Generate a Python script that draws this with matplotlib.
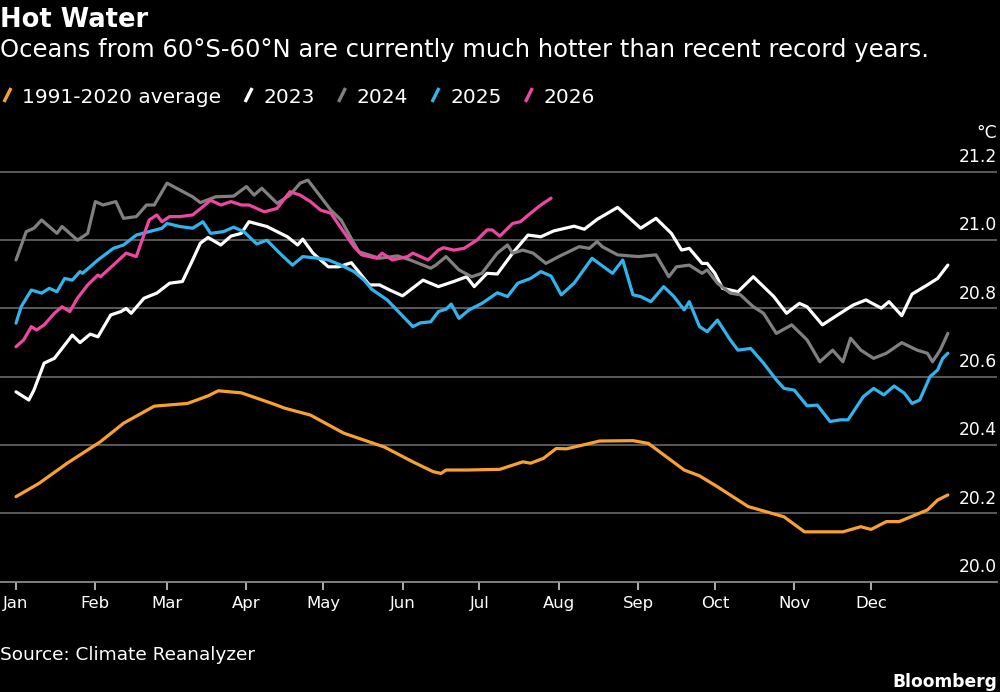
import matplotlib
matplotlib.use("Agg")
import matplotlib.pyplot as plt
from matplotlib.lines import Line2D
import matplotlib.transforms as mtrans

# ---------------- data (day of year, °C) ----------------
avg_days = [0, 9, 20, 33, 42, 54, 59, 67, 75, 79, 88, 100, 105, 115, 128, 144, 155, 163, 166, 168,
            176, 189, 198, 201, 206, 211, 215, 223, 228, 241, 247, 254, 261, 267, 274, 286, 293,
            300, 308, 323, 330, 334, 340, 345, 356, 360, 364]
avg_vals = [20.249, 20.288, 20.347, 20.41, 20.464, 20.514, 20.517, 20.522, 20.544, 20.559, 20.553,
            20.522, 20.508, 20.488, 20.435, 20.394, 20.351, 20.322, 20.317, 20.327, 20.327, 20.329,
            20.351, 20.347, 20.361, 20.39, 20.389, 20.403, 20.412, 20.413, 20.405, 20.366, 20.327,
            20.31, 20.278, 20.22, 20.205, 20.19, 20.146, 20.146, 20.161, 20.153, 20.176, 20.176,
            20.21, 20.239, 20.254]

y2023_days = [0, 5, 7, 11, 15, 22, 25, 29, 32, 37, 41, 43, 45, 50, 55, 60, 65, 69, 72, 75, 80, 84,
              88, 91, 98, 106, 110, 112, 116, 122, 126, 131, 138, 142, 146, 151, 159, 165, 171,
              176, 179, 184, 188, 194, 200, 205, 210, 218, 222, 227, 235, 244, 250, 256, 260, 263,
              268, 270, 273, 276, 282, 288, 296, 301, 306, 309, 315, 322, 327, 332, 338, 341, 346,
              350, 356, 360, 364]
y2023_vals = [20.556, 20.532, 20.561, 20.64, 20.654, 20.722, 20.70, 20.725, 20.717, 20.781, 20.791,
              20.80, 20.786, 20.83, 20.845, 20.874, 20.879, 20.942, 20.991, 21.008, 20.986, 21.012,
              21.02, 21.054, 21.04, 21.01, 20.986, 21.003, 20.962, 20.922, 20.922, 20.934, 20.869,
              20.869, 20.854, 20.837, 20.883, 20.864, 20.879, 20.893, 20.864, 20.903, 20.901,
              20.962, 21.015, 21.01, 21.027, 21.041, 21.032, 21.061, 21.096, 21.035, 21.064, 21.02,
              20.971, 20.976, 20.932, 20.932, 20.903, 20.859, 20.849, 20.893, 20.835, 20.786,
              20.815, 20.805, 20.752, 20.786, 20.81, 20.825, 20.801, 20.82, 20.779, 20.842, 20.869,
              20.888, 20.927]

y2024_days = [0, 4, 7, 10, 16, 18, 24, 28, 31, 34, 39, 42, 47, 51, 54, 59, 64, 69, 72, 78, 85, 90,
              93, 96, 102, 107, 111, 114, 118, 123, 127, 132, 134, 142, 149, 154, 162, 164, 168,
              173, 178, 182, 188, 192, 194, 198, 202, 207, 212, 220, 224, 227, 229, 235, 243, 250,
              255, 258, 263, 268, 270, 274, 279, 283, 288, 292, 297, 303, 309, 314, 319, 323, 326,
              330, 335, 340, 346, 352, 356, 358, 361, 364]
y2024_vals = [20.942, 21.025, 21.035, 21.059, 21.02, 21.04, 21.0, 21.02, 21.113, 21.103, 21.113,
              21.064, 21.069, 21.103, 21.103, 21.167, 21.147, 21.127, 21.11, 21.127, 21.129, 21.157,
              21.132, 21.152, 21.108, 21.132, 21.167, 21.176, 21.137, 21.088, 21.059, 20.991,
              20.966, 20.947, 20.954, 20.942, 20.918, 20.927, 20.952, 20.913, 20.893, 20.903,
              20.962, 20.986, 20.962, 20.971, 20.962, 20.932, 20.952, 20.981, 20.976, 20.996,
              20.981, 20.957, 20.952, 20.957, 20.893, 20.922, 20.927, 20.903, 20.913, 20.874,
              20.845, 20.84, 20.805, 20.786, 20.727, 20.752, 20.708, 20.644, 20.678, 20.644, 20.713,
              20.678, 20.654, 20.669, 20.70, 20.678, 20.669, 20.644, 20.678, 20.727]

y2025_days = [0, 2, 6, 10, 13, 16, 19, 22, 25, 26, 32, 38, 42, 47, 52, 57, 59, 64, 69, 73, 76, 81,
              85, 89, 94, 98, 103, 108, 112, 118, 122, 127, 132, 136, 139, 145, 150, 155, 158, 162,
              165, 168, 170, 173, 177, 182, 188, 192, 196, 201, 205, 209, 213, 218, 225, 233, 237,
              241, 244, 248, 253, 257, 261, 263, 267, 270, 274, 279, 282, 287, 292, 297, 300, 304,
              309, 313, 318, 322, 325, 331, 335, 339, 343, 347, 350, 353, 357, 360, 362, 364]
y2025_vals = [20.757, 20.805, 20.854, 20.845, 20.859, 20.849, 20.888, 20.883, 20.908, 20.903,
              20.942, 20.976, 20.986, 21.015, 21.025, 21.035, 21.049, 21.04, 21.035, 21.054, 21.02,
              21.025, 21.038, 21.025, 20.989, 21.0, 20.962, 20.927, 20.952, 20.947, 20.942, 20.927,
              20.908, 20.883, 20.856, 20.825, 20.786, 20.747, 20.758, 20.761, 20.791, 20.798,
              20.813, 20.771, 20.796, 20.815, 20.846, 20.835, 20.874, 20.888, 20.908, 20.895,
              20.84, 20.874, 20.947, 20.903, 20.942, 20.84, 20.835, 20.82, 20.864, 20.835, 20.796,
              20.82, 20.747, 20.732, 20.766, 20.708, 20.678, 20.683, 20.64, 20.591, 20.566, 20.561,
              20.515, 20.517, 20.469, 20.474, 20.474, 20.542, 20.566, 20.547, 20.573, 20.552,
              20.522, 20.532, 20.60, 20.62, 20.654, 20.669]

y2026_days = [0, 3, 6, 8, 11, 15, 18, 21, 24, 28, 32, 33, 38, 43, 47, 52, 55, 57, 60, 64, 69, 73,
              76, 80, 84, 88, 91, 97, 102, 107, 111, 115, 119, 123, 127, 132, 135, 141, 143, 147,
              153, 155, 161, 165, 167, 171, 175, 180, 184, 186, 189, 194, 197, 201, 205, 209]
y2026_vals = [20.688, 20.708, 20.747, 20.737, 20.752, 20.786, 20.805, 20.791, 20.83, 20.869,
              20.898, 20.893, 20.927, 20.962, 20.952, 21.059, 21.074, 21.054, 21.069, 21.069,
              21.074, 21.098, 21.117, 21.103, 21.113, 21.103, 21.103, 21.083, 21.093, 21.142,
              21.132, 21.113, 21.088, 21.079, 21.035, 20.981, 20.957, 20.947, 20.962, 20.942,
              20.952, 20.962, 20.942, 20.971, 20.978, 20.971, 20.976, 21.0, 21.03, 21.03, 21.012,
              21.049, 21.054, 21.079, 21.103, 21.123]

series_labels = ["1991-2020 average", "2023", "2024", "2025", "2026"]
month_days = [0, 31, 59, 90, 120, 151, 181, 212, 243, 273, 304, 334]
month_labels = ["Jan", "Feb", "Mar", "Apr", "May", "Jun", "Jul", "Aug", "Sep", "Oct", "Nov", "Dec"]
y_ticks = [20.0, 20.2, 20.4, 20.6, 20.8, 21.0, 21.2]
y_tick_labels = ["20.0", "20.2", "20.4", "20.6", "20.8", "21.0", "21.2"]

title = "Hot Water"
subtitle = "Oceans from 60°S-60°N are currently much hotter than recent record years."
source = "Source: Climate Reanalyzer"
unit = "°C"

# ---------------- style ----------------
colors = ["#F9A12E", "#FFFFFF", "#808080", "#2FB4EE", "#EE46A2"]
BG = "#000000"
GRID = "#5A5A5A"
plt.rcParams["font.family"] = ["DejaVu Sans"]

W, H = 1000, 692
fig = plt.figure(figsize=(W / 100, H / 100), dpi=100, facecolor=BG)
renderer = fig.canvas.get_renderer()


def px(x, y):
    return x / W, 1 - y / H


def fit(t, target_w):
    w = t.get_window_extent(renderer).width
    t.set_fontsize(t.get_fontsize() * target_w / w)
    return t


def fitted_size(text, target_w, **kw):
    t = fig.text(0, 0, text, fontsize=12, **kw)
    w = t.get_window_extent(renderer).width
    t.remove()
    return 12 * target_w / w


# axes geometry (in pixels)
ax_left_px, ax_right_px = 0, 997
ax_bottom_px, ax_top_px = 581.7, 154.8
ax = fig.add_axes([ax_left_px / W, 1 - ax_bottom_px / H,
                   (ax_right_px - ax_left_px) / W, (ax_bottom_px - ax_top_px) / H])
ax.set_facecolor(BG)
ax.set_xlim(-6.25, 383.2)
ax.set_ylim(20.0, 21.25)

for s in ["top", "right", "left"]:
    ax.spines[s].set_visible(False)
ax.spines["bottom"].set_color("#8A8A8A")
ax.spines["bottom"].set_linewidth(1.3)

for v in y_ticks[1:]:
    ax.axhline(v, color=GRID, lw=1.4, zorder=1)

tick_fs = fitted_size("May", 34)
ax.set_yticks([])
ax.set_xticks(month_days)
ax.set_xticklabels(month_labels)
ax.tick_params(axis="x", colors="#BBBBBB", length=6, width=1.3, pad=4,
               labelsize=tick_fs, labelcolor="white")

all_days = [avg_days, y2023_days, y2024_days, y2025_days, y2026_days]
all_vals = [avg_vals, y2023_vals, y2024_vals, y2025_vals, y2026_vals]
for d, v, c, lab in zip(all_days, all_vals, colors, series_labels):
    ax.plot(d, v, color=c, lw=2.3, solid_joinstyle="round", solid_capstyle="round",
            zorder=3, label=lab)

# y tick labels: right-aligned, above gridlines
ylab_fs = fitted_size("21.0", 38)
trans = mtrans.blended_transform_factory(ax.transAxes, ax.transData)
for v, lab in zip(y_ticks, y_tick_labels):
    ax.annotate(lab, xy=(1.0, v), xycoords=trans, xytext=(0, 7), textcoords="offset points",
                ha="right", va="baseline", color="white", fontsize=ylab_fs)
fig.text(*px(997, 138), unit, ha="right", va="baseline", color="white", fontsize=ylab_fs)

# titles
t1 = fig.text(*px(0, 27), title, ha="left", va="baseline", color="white", fontsize=18,
              fontweight="bold")
fit(t1, 148)
t2 = fig.text(*px(0, 57), subtitle, ha="left", va="baseline", color="white", fontsize=17)
fit(t2, 930)

# legend with slanted strokes (laid out left to right)
leg_fs = fitted_size(series_labels[0], 198)
x = 0.0
leg_base = 103
for lab, c in zip(series_labels, colors):
    fig.add_artist(Line2D([(x + 4) / W, (x + 11) / W], [1 - 102 / H, 1 - 88 / H],
                          color=c, lw=2.4, solid_capstyle="butt"))
    t = fig.text(*px(x + 22, leg_base), lab, ha="left", va="baseline", color="white",
                 fontsize=leg_fs)
    wpx = t.get_window_extent(renderer).width
    x = x + 22 + wpx + 20

t3 = fig.text(*px(0, 660), source, ha="left", va="baseline", color="white", fontsize=14)
fit(t3, 256)
t4 = fig.text(*px(997, 687), "Bloomberg", ha="right", va="baseline", color="white",
              fontsize=14, fontweight="bold")
fit(t4, 105)

fig.savefig("out.png", dpi=100, facecolor=BG)
